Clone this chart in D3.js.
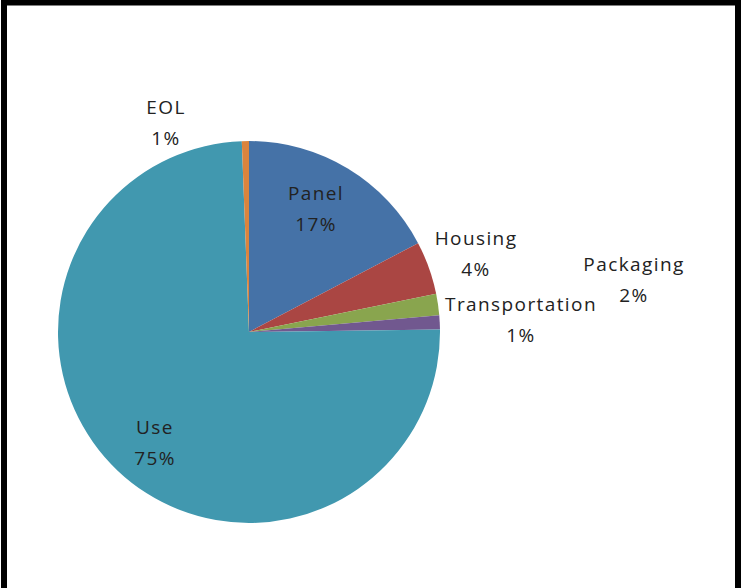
<!DOCTYPE html>
<html>
<head>
<meta charset="utf-8">
<script src="https://cdn.jsdelivr.net/npm/d3@7"></script>
<style>
  html, body { margin: 0; padding: 0; background: #fff; }
  svg { display: block; }
</style>
</head>
<body>
<svg width="743" height="588"></svg>
<script>
// Life-cycle shares (percent), clockwise from 12 o'clock
const stages = ["Panel", "Housing", "Packaging", "Transportation", "Use", "EOL"];
const shares = [17.3, 4.5, 1.8, 1.2, 74.6, 0.6];
const shareLabels = ["17%", "4%", "2%", "1%", "75%", "1%"];
const colors = ["#4572A7", "#AA4643", "#89A54E", "#71588F", "#4198AF", "#DB843D"];

// label anchor offsets from pie centre (Excel labels were dragged by hand)
const labelOffset = [[67, -132], [227, -87], [385, -61], [272, -21], [-94, 102], [-83, -218]];

const svg = d3.select("svg"),
  width = +svg.attr("width"),
  height = +svg.attr("height");

// frame (bottom edge is cut off in the original)
svg.append("path")
  .attr("d", `M4,${height} V2.5 H738 V${height}`)
  .attr("fill", "none")
  .attr("stroke", "#000")
  .attr("stroke-width", 6);

const cx = 249, cy = 332, radius = 191;

const pie = d3.pie().sort(null).value(d => d.value);
const arc = d3.arc().innerRadius(0).outerRadius(radius);

const data = stages.map((s, i) => ({ name: s, value: shares[i], label: shareLabels[i], i: i }));

const g = svg.append("g").attr("transform", `translate(${cx},${cy})`);

g.selectAll("path")
  .data(pie(data))
  .enter().append("path")
  .attr("d", arc)
  .attr("fill", d => colors[d.data.i]);

// labels
const lab = g.selectAll("text")
  .data(data)
  .enter().append("text")
  .attr("text-anchor", "middle")
  .attr("font-family", "'Open Sans', sans-serif")
  .attr("font-size", "19px")
  .attr("letter-spacing", "1.4px")
  .attr("fill", "#222")
  .attr("transform", d => `translate(${labelOffset[d.i][0]},${labelOffset[d.i][1]})`);

lab.append("tspan")
  .attr("x", 0)
  .attr("y", 0)
  .text(d => d.name);

lab.append("tspan")
  .attr("x", 0)
  .attr("y", 31)
  .text(d => d.label);
</script>
</body>
</html>
